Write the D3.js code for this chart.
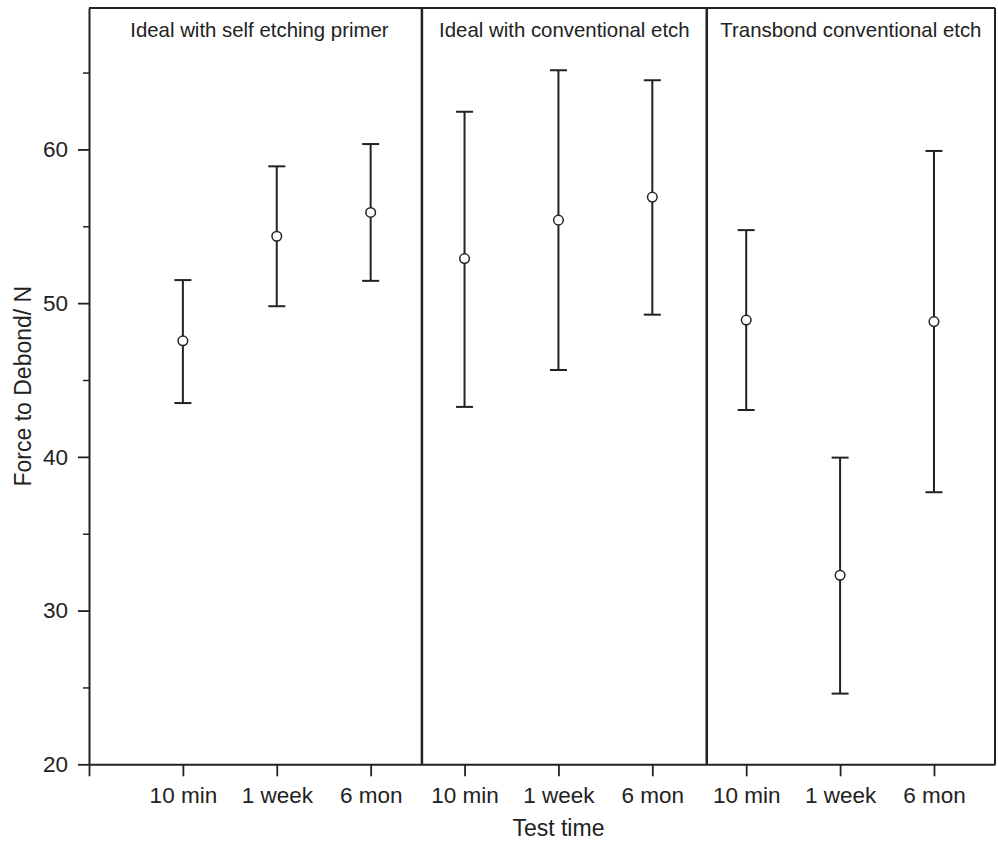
<!DOCTYPE html>
<html>
<head>
<meta charset="utf-8">
<script src="https://cdn.jsdelivr.net/npm/d3@7"></script>
<style>
  html, body { margin: 0; padding: 0; background: #fff; }
  svg { display: block; }
  text { font-family: "Liberation Sans", Arial, Helvetica, sans-serif; fill: #222; }
</style>
</head>
<body>
<svg id="chart" width="998" height="841"></svg>
<script>
// ---- data ----
const groups = ["Ideal with self etching primer", "Ideal with conventional etch", "Transbond conventional etch"];
const times = ["10 min", "1 week", "6 mon"];
const positions = [1, 2, 3, 4, 5, 6, 7, 8, 9];
const tickLabels = ["10 min", "1 week", "6 mon", "10 min", "1 week", "6 mon", "10 min", "1 week", "6 mon"];
const means = [47.55, 54.35, 55.9, 52.9, 55.4, 56.9, 48.9, 32.3, 48.8];
const upper = [51.5, 58.9, 60.35, 62.45, 65.15, 64.5, 54.75, 39.95, 59.9];
const lower = [43.5, 49.8, 51.45, 43.25, 45.65, 49.25, 43.05, 24.6, 37.7];
const yMajorTicks = [20, 30, 40, 50, 60];
const yMinorTicks = [25, 35, 45, 55, 65];
const dividers = [3.546, 6.58];
const panelBounds = [0, 3.546, 6.58, 9.65];

// ---- layout ----
const pLeft = 89, pRight = 995, pTop = 8, pBottom = 764.3;
const svg = d3.select("#chart");

const x = d3.scaleLinear().domain([0, 9.65]).range([pLeft, pRight]);
const y = d3.scaleLinear().domain([20, 69.2]).range([pBottom, pTop]);

const ink = "#222";

// frame top and right
svg.append("line").attr("x1", pLeft).attr("x2", pRight).attr("y1", pTop).attr("y2", pTop)
  .attr("stroke", ink).attr("stroke-width", 2);
svg.append("line").attr("x1", pRight).attr("x2", pRight).attr("y1", pTop).attr("y2", pBottom)
  .attr("stroke", ink).attr("stroke-width", 2);

// panel dividers
svg.selectAll("line.div").data(dividers).enter().append("line")
  .attr("class", "div")
  .attr("x1", d => x(d)).attr("x2", d => x(d))
  .attr("y1", pTop).attr("y2", pBottom)
  .attr("stroke", ink).attr("stroke-width", 2.5);

// x axis
const xAxis = d3.axisBottom(x)
  .tickValues([0].concat(positions))
  .tickSize(12).tickSizeOuter(0).tickPadding(11)
  .tickFormat(d => d === 0 ? "" : tickLabels[d - 1]);
const gx = svg.append("g").attr("transform", `translate(0,${pBottom})`).call(xAxis);
gx.select(".domain").attr("stroke", ink).attr("stroke-width", 2);
gx.selectAll(".tick line").attr("stroke", ink).attr("stroke-width", 1.8);
gx.selectAll(".tick text").attr("font-size", "22.5px").attr("fill", ink)
  .attr("font-family", "Liberation Sans, Arial, sans-serif");

// y axis major
const yAxis = d3.axisLeft(y).tickValues(yMajorTicks).tickSize(11).tickSizeOuter(0).tickPadding(10)
  .tickFormat(d3.format("d"));
const gy = svg.append("g").attr("transform", `translate(${pLeft},0)`).call(yAxis);
gy.select(".domain").attr("stroke", ink).attr("stroke-width", 2);
gy.selectAll(".tick line").attr("stroke", ink).attr("stroke-width", 1.8);
gy.selectAll(".tick text").attr("font-size", "22.5px").attr("fill", ink)
  .attr("font-family", "Liberation Sans, Arial, sans-serif");

// y axis minor
const yAxisMinor = d3.axisLeft(y).tickValues(yMinorTicks).tickSize(6).tickSizeOuter(0).tickFormat("");
const gym = svg.append("g").attr("transform", `translate(${pLeft},0)`).call(yAxisMinor);
gym.select(".domain").remove();
gym.selectAll(".tick line").attr("stroke", ink).attr("stroke-width", 1.5);

// axis titles
svg.append("text")
  .attr("transform", `translate(31,${(pTop + pBottom) / 2}) rotate(-90)`)
  .attr("text-anchor", "middle")
  .attr("font-size", "23px")
  .text("Force to Debond/ N");
svg.append("text")
  .attr("x", x(5)).attr("y", 836)
  .attr("text-anchor", "middle")
  .attr("font-size", "23px")
  .text("Test time");

// panel titles
svg.selectAll("text.ptitle").data(groups).enter().append("text")
  .attr("class", "ptitle")
  .attr("x", (d, i) => (x(panelBounds[i]) + x(panelBounds[i + 1])) / 2 + (i === 0 ? 4 : 0))
  .attr("y", 37)
  .attr("text-anchor", "middle")
  .attr("font-size", "20.4px")
  .text(d => d);

// error bars
const bars = svg.append("g");
const capHalf = 8.5;
positions.forEach((p, i) => {
  const cx = x(p);
  bars.append("line").attr("x1", cx).attr("x2", cx)
    .attr("y1", y(upper[i])).attr("y2", y(lower[i]))
    .attr("stroke", ink).attr("stroke-width", 2);
  bars.append("line").attr("x1", cx - capHalf).attr("x2", cx + capHalf)
    .attr("y1", y(upper[i])).attr("y2", y(upper[i]))
    .attr("stroke", ink).attr("stroke-width", 2);
  bars.append("line").attr("x1", cx - capHalf).attr("x2", cx + capHalf)
    .attr("y1", y(lower[i])).attr("y2", y(lower[i]))
    .attr("stroke", ink).attr("stroke-width", 2);
  bars.append("circle").attr("cx", cx).attr("cy", y(means[i])).attr("r", 4.8)
    .attr("fill", "#fff").attr("stroke", ink).attr("stroke-width", 1.5);
});
</script>
</body>
</html>
